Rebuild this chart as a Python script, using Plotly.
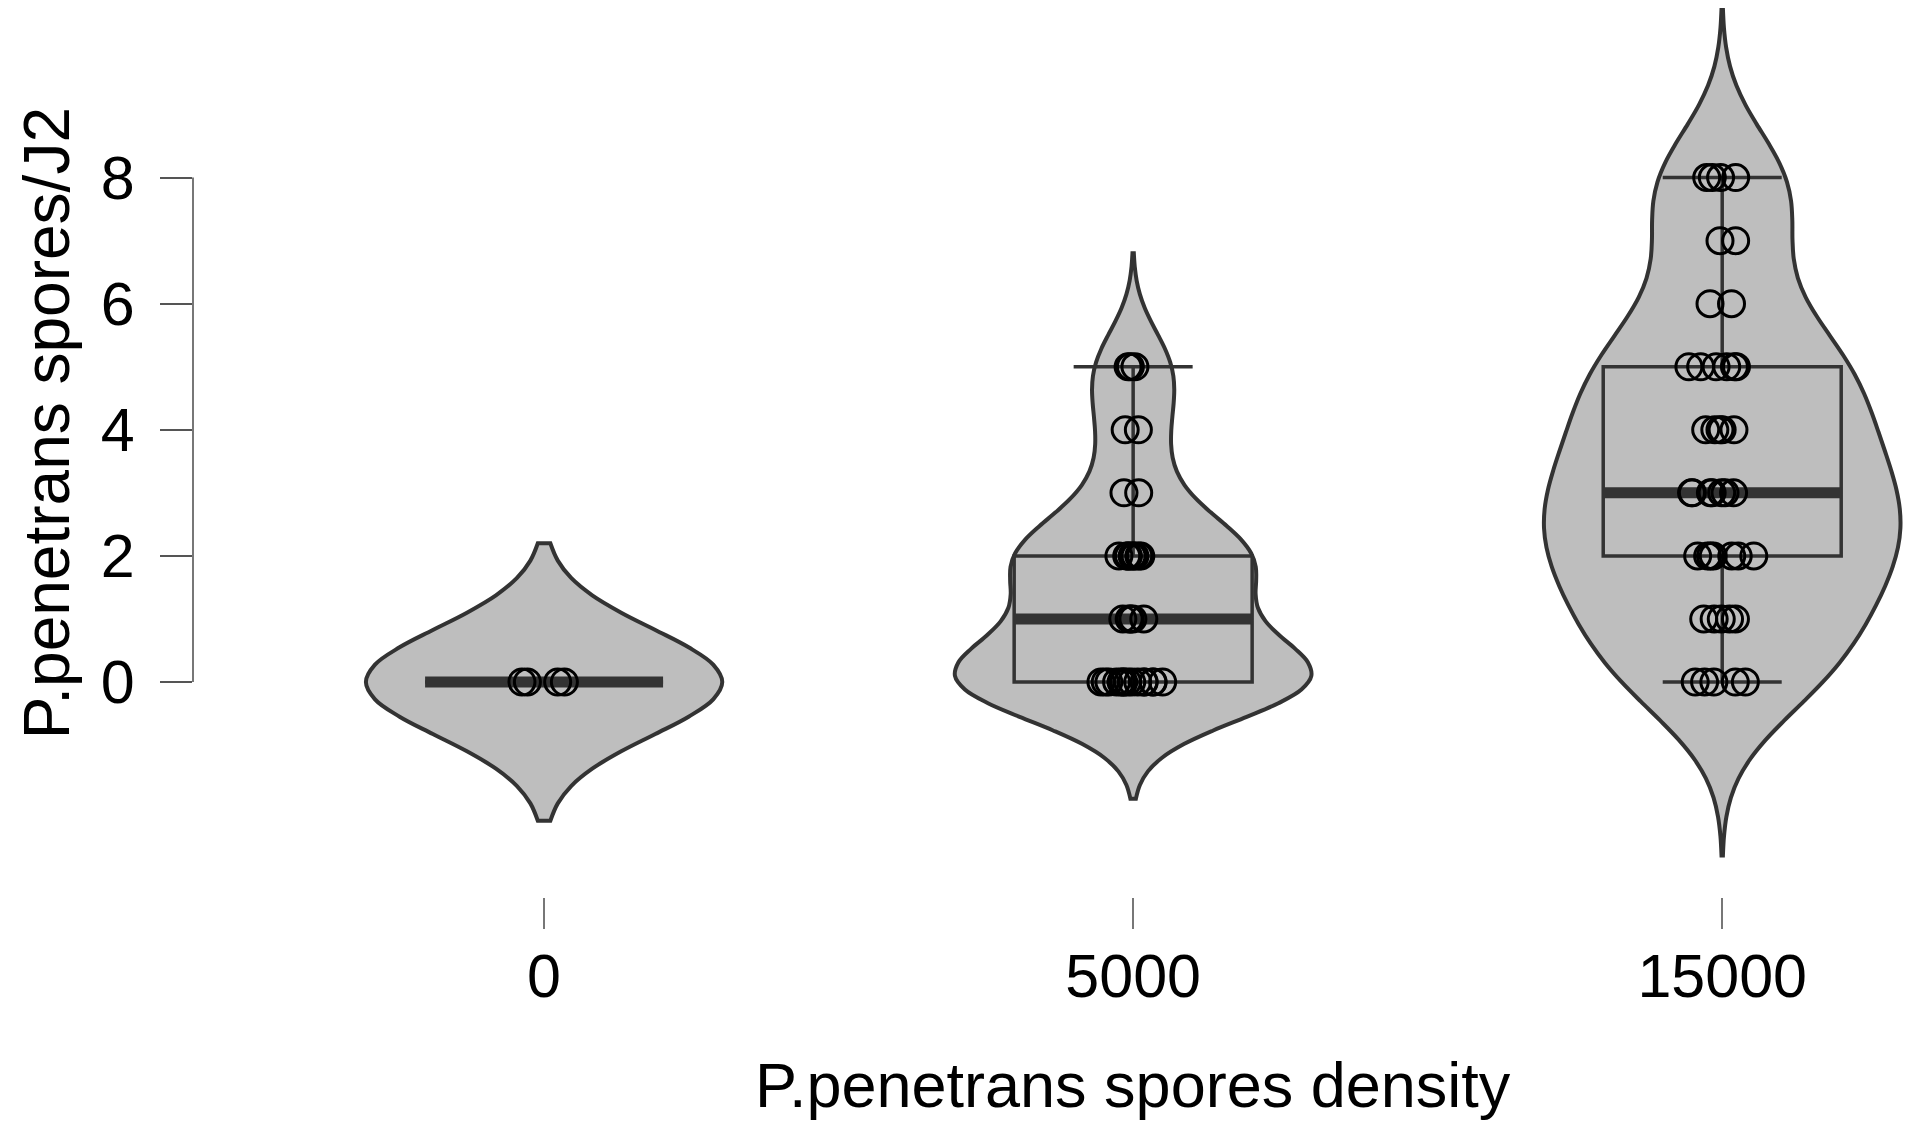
import numpy as np
import plotly.graph_objects as go

# 데이터: 그룹별 J2당 포자 수
categories = ['0', '5000', '15000']
positions = [0, 1, 2]

spores_0 = [0, 0, 0, 0]
spores_5000 = [0, 0, 0, 0, 0, 0, 0, 0, 0, 0, 0, 0, 0, 0, 0,
               1, 1, 1, 1, 1,
               2, 2, 2, 2, 2, 2, 2, 2, 2,
               3, 3,
               4, 4,
               5, 5, 5]
spores_15000 = [0, 0, 0, 0, 0,
                1, 1, 1, 1, 1,
                2, 2, 2, 2, 2, 2, 2,
                3, 3, 3, 3, 3, 3, 3,
                4, 4, 4, 4, 4,
                5, 5, 5, 5, 5, 5,
                6, 6,
                7, 7,
                8, 8, 8, 8]
groups = [spores_0, spores_5000, spores_15000]

y_ticks = [0, 2, 4, 6, 8]

# 스타일
GREY = '#BEBEBE'
DARK = '#333333'
FONT = 'Liberation Sans, Arial, sans-serif'

# 바이올린 모양 설정 (bandwidth, span)
vio_opts = [dict(bw=0.85, span=[-2.2, 2.2]),
            dict(bw=0.65, span=[-1.85, 6.8]),
            dict(bw=0.92, span=[-2.75, 10.68])]
jitters = [0.22, 0.32, 0.3]

VIO_W = 0.605
BOX_W = 0.404

fig = go.Figure()

# 바이올린
for pos, vals, o in zip(positions, groups, vio_opts):
    fig.add_trace(go.Violin(y=vals, x0=pos, width=VIO_W, scalemode='width',
                            bandwidth=o['bw'], spanmode='manual', span=o['span'],
                            fillcolor=GREY, line=dict(color=DARK, width=4),
                            points=False, box_visible=False, meanline_visible=False,
                            opacity=1, showlegend=False, hoverinfo='skip'))

# 박스
for pos, vals in zip(positions, groups):
    fig.add_trace(go.Box(y=vals, x0=pos, width=BOX_W, whiskerwidth=0.5,
                         fillcolor=GREY, line=dict(color=DARK, width=3.5),
                         boxpoints=False, showlegend=False, hoverinfo='skip'))

# 중앙값 굵은 선
for pos, vals in zip(positions, groups):
    fig.add_trace(go.Box(y=[float(np.median(vals))], x0=pos, width=BOX_W, whiskerwidth=0,
                         fillcolor=DARK, line=dict(color=DARK, width=11),
                         boxpoints=False, showlegend=False, hoverinfo='skip'))

# 점 (jitter)
for pos, vals, j in zip(positions, groups, jitters):
    fig.add_trace(go.Box(y=vals, x0=pos, width=BOX_W, boxpoints='all', jitter=j, pointpos=0,
                         fillcolor='rgba(0,0,0,0)', line=dict(color='rgba(0,0,0,0)', width=0),
                         marker=dict(symbol='circle-open', size=26, color='black',
                                     line=dict(width=3, color='black')),
                         showlegend=False, hoverinfo='skip'))

# y축 선 (0~8 구간만)
fig.add_shape(type='line', xref='paper', yref='y', x0=0, x1=0, y0=0, y1=8,
              line=dict(color='#777777', width=2))

fig.add_annotation(text='P.penetrans spores density', xref='x', yref='paper',
                   x=1, y=-0.212, showarrow=False, xanchor='center', yanchor='middle',
                   font=dict(family=FONT, size=63, color='black'))
fig.add_annotation(text='P.penetrans spores/J2', xref='paper', yref='paper',
                   x=-0.0855, y=0.5325, textangle=-90, showarrow=False,
                   xanchor='center', yanchor='middle',
                   font=dict(family=FONT, size=64, color='black'))

fig.update_layout(
    width=1898, height=1113,
    margin=dict(l=185, r=0, t=0, b=224),
    plot_bgcolor='white', paper_bgcolor='white',
    font=dict(family=FONT, size=61, color='black'),
    boxmode='overlay', violinmode='overlay',
    xaxis=dict(range=[-0.596, 2.312], tickvals=positions, ticktext=categories,
               ticks='outside', ticklen=31, tickwidth=2, tickcolor='#777777',
               showline=False, showgrid=False, zeroline=False,
               ticklabelstandoff=-5),
    yaxis=dict(range=[-3.41, 10.69], tickvals=y_ticks,
               ticks='outside', ticklen=32, tickwidth=2, tickcolor='#555555',
               showline=False, showgrid=False, zeroline=False,
               ticklabelstandoff=13),
)

fig.write_html('out.html')
